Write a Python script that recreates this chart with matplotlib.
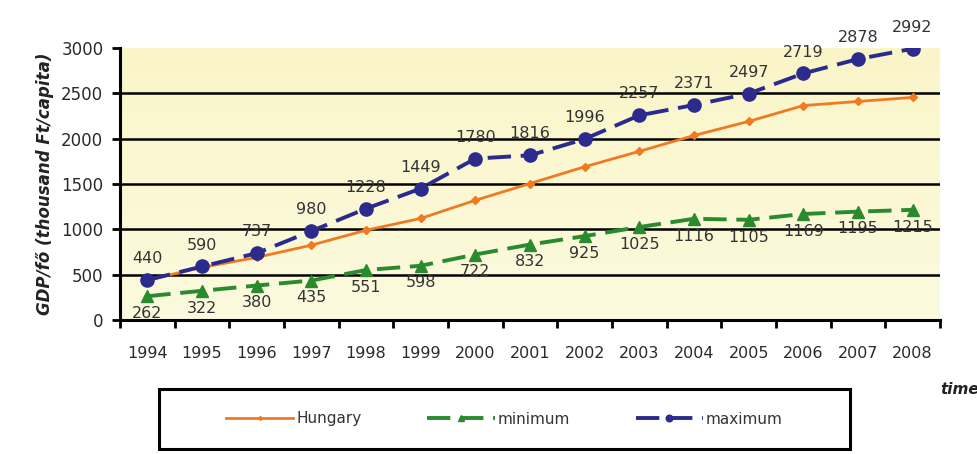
import numpy as np
import matplotlib
matplotlib.use("Agg")
import matplotlib.pyplot as plt
from matplotlib.patches import Rectangle

plt.rcParams['font.family'] = ['DejaVu Sans']

years = ['1994', '1995', '1996', '1997', '1998', '1999', '2000', '2001',
         '2002', '2003', '2004', '2005', '2006', '2007', '2008']
hungary = [440, 580, 690, 825, 990, 1120, 1320, 1505, 1690, 1860, 2035, 2190, 2365, 2410, 2455]
minimum = [262, 322, 380, 435, 551, 598, 722, 832, 925, 1025, 1116, 1105, 1169, 1195, 1215]
maximum = [440, 590, 737, 980, 1228, 1449, 1780, 1816, 1996, 2257, 2371, 2497, 2719, 2878, 2992]

fig = plt.figure(figsize=(9.78, 4.54), dpi=100)
ax = fig.add_axes([0.1227, 0.2952, 0.8384, 0.5991])

# pale yellow plot area, slightly lighter towards the bottom
grad = np.linspace(0, 1, 256).reshape(-1, 1)
bg = np.zeros((256, 1, 3))
top_c = np.array([250, 245, 200]) / 255
bot_c = np.array([252, 250, 222]) / 255
bg[:, 0, :] = top_c * (1 - grad) + bot_c * grad
ax.imshow(bg, extent=[0, 1, 0, 1], transform=ax.transAxes, aspect='auto', zorder=0)

x = np.arange(len(years))

ax.plot(x, hungary, color='#f07a22', lw=2.0, marker='D', ms=4,
        label='Hungary', zorder=3)
ax.plot(x, minimum, color='#2a8a2e', lw=2.8, ls=(0, (6, 2.5)), marker='^', ms=8.5,
        label='minimum', zorder=4)
ax.plot(x, maximum, color='#2b2b8e', lw=2.8, ls=(0, (6, 2.5)), marker='o', ms=9.5,
        label='maximum', zorder=5)

for xi, v in zip(x, maximum):
    ax.annotate(str(v), (xi, v), xytext=(0, 10), textcoords='offset points',
                ha='center', va='bottom', fontsize=11.5, color='#333333', zorder=6)
for xi, v in zip(x, minimum):
    ax.annotate(str(v), (xi, v), xytext=(0, -7), textcoords='offset points',
                ha='center', va='top', fontsize=11.5, color='#333333', zorder=6)

ax.set_xlim(-0.5, len(years) - 0.5)
ax.set_ylim(0, 3000)
ax.set_yticks(range(0, 3001, 500))
ax.yaxis.grid(True, color='black', lw=1.8)
ax.yaxis.get_major_ticks()[-1].gridline.set_visible(False)
ax.set_axisbelow(False)
for gl in ax.get_ygridlines():
    gl.set_zorder(1)

# ticks sit between categories, labels under each category
ax.set_xticks(np.arange(-0.5, len(years)))
ax.set_xticklabels([])
ax.set_xticks(x, minor=True)
ax.set_xticklabels(years, minor=True, fontsize=11.5, color='#2a2a2a')
ax.tick_params(axis='x', which='major', length=6, width=2, direction='out')
ax.tick_params(axis='x', which='minor', length=0, pad=19)
ax.tick_params(axis='y', length=6, width=2, labelsize=12, pad=6,
               direction='out', labelcolor='#2a2a2a')

for s in ['top', 'right']:
    ax.spines[s].set_visible(False)
for s in ['left', 'bottom']:
    ax.spines[s].set_linewidth(2.2)
    ax.spines[s].set_zorder(7)

ax.set_ylabel('GDP/fő (thousand Ft/capita)', fontsize=12, fontweight='bold',
              fontstyle='italic', color='#222222', labelpad=5)
fig.text(0.9612, 0.141, 'time', fontsize=11, fontweight='bold', fontstyle='italic',
         ha='left', va='center', color='#222222')

# legend in a framed box below the axis
box_x0, box_y0, box_w, box_h = 159 / 978, 1 - 449 / 454, 691 / 978, 60 / 454
fig.patches.append(Rectangle((box_x0, box_y0), box_w, box_h, transform=fig.transFigure,
                             fill=False, edgecolor='black', lw=2.2))
leg = fig.legend(loc='center', bbox_to_anchor=(box_x0, box_y0, box_w, box_h),
                 bbox_transform=fig.transFigure, ncol=3, fontsize=11,
                 frameon=False, handlelength=4.4, handletextpad=0.2,
                 columnspacing=4.3, markerscale=0.5)
for t in leg.get_texts():
    t.set_color('#333333')

fig.savefig('out.png', dpi=100)
